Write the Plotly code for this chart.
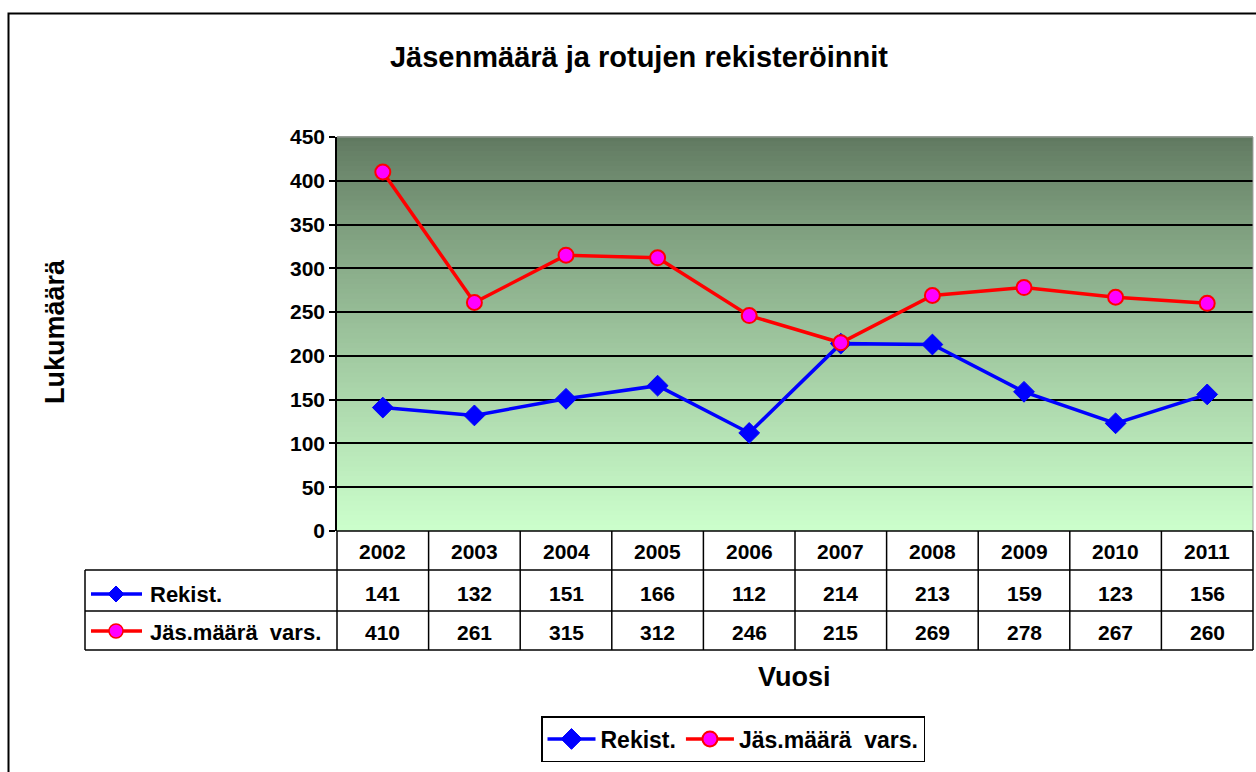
import plotly.graph_objects as go

years = ["2002", "2003", "2004", "2005", "2006", "2007", "2008", "2009", "2010", "2011"]
rekist = [141, 132, 151, 166, 112, 214, 213, 159, 123, 156]
jasmaara = [410, 261, 315, 312, 246, 215, 269, 278, 267, 260]
series_names = ["Rekist.", "Jäs.määrä  vars."]
y_ticks = [0, 50, 100, 150, 200, 250, 300, 350, 400, 450]

W, H = 1256, 772
L, R, T, B = 337, 1253, 137, 531
PW, PH = R - L, B - T

def xp(px):
    return (px - L) / PW

def yp(py):
    return (B - py) / PH

FONT = "Liberation Sans, Arial, sans-serif"
BLUE = "#0000ff"
RED = "#ff0000"
MAG = "#ff00ff"

fig = go.Figure()
fig.add_trace(go.Scatter(
    x=years, y=rekist, name="<b>%s</b>" % series_names[0], mode="lines+markers",
    line=dict(color=BLUE, width=3.5),
    marker=dict(symbol="diamond", size=16, color=BLUE, line=dict(color=BLUE, width=1)),
))
fig.add_trace(go.Scatter(
    x=years, y=jasmaara, name="<b>%s</b>" % series_names[1].replace("  ", "&nbsp; "),
    mode="lines+markers",
    line=dict(color=RED, width=3.5),
    marker=dict(symbol="circle", size=15, color=MAG, line=dict(color=RED, width=2)),
))

shapes = []
# gradient background
top = (95, 119, 95)
bot = (204, 255, 204)
N = 80
for i in range(N):
    f = (i + 0.5) / N  # from top
    g = f ** 0.85
    c = tuple(int(round(top[k] + (bot[k] - top[k]) * g)) for k in range(3))
    shapes.append(dict(type="rect", xref="x domain", yref="y domain",
                       x0=0, x1=1, y0=1 - (i + 1) / N, y1=1 - i / N + 0.002,
                       fillcolor="rgb(%d,%d,%d)" % c, line=dict(width=0), layer="below"))
# plot border (top/right grey)
shapes.append(dict(type="line", xref="paper", yref="paper", x0=0, x1=1, y0=1, y1=1,
                   line=dict(color="#a0a0a0", width=1)))
shapes.append(dict(type="line", xref="paper", yref="paper", x0=1, x1=1, y0=0, y1=1,
                   line=dict(color="#a0a0a0", width=1)))
# outer chart border
shapes.append(dict(type="rect", xref="paper", yref="paper",
                   x0=xp(8.5), x1=xp(1262), y0=yp(13.5), y1=yp(790),
                   line=dict(color="black", width=2), fillcolor="rgba(0,0,0,0)"))

# data table grid
n = len(years)
row_lines = [570, 611, 650]
for k in range(n + 1):
    shapes.append(dict(type="line", xref="paper", yref="paper",
                       x0=k / n, x1=k / n, y0=yp(531), y1=yp(650),
                       line=dict(color="black", width=1.5)))
shapes.append(dict(type="line", xref="paper", yref="paper",
                   x0=0, x1=1, y0=yp(531), y1=yp(531), line=dict(color="black", width=1.5)))
for ry in row_lines:
    shapes.append(dict(type="line", xref="paper", yref="paper",
                       x0=xp(85), x1=1, y0=yp(ry), y1=yp(ry), line=dict(color="black", width=1.5)))
shapes.append(dict(type="line", xref="paper", yref="paper",
                   x0=xp(85), x1=xp(85), y0=yp(570), y1=yp(650), line=dict(color="black", width=1.5)))

# legend keys in table
def key(py, kind):
    out = [dict(type="line", xref="paper", yref="paper", x0=xp(91), x1=xp(142),
                y0=yp(py), y1=yp(py), line=dict(color=BLUE if kind == "d" else RED, width=3.5))]
    cx = 116
    if kind == "d":
        s = 8
        path = "M %f,%f L %f,%f L %f,%f L %f,%f Z" % (
            xp(cx - s), yp(py), xp(cx), yp(py - s), xp(cx + s), yp(py), xp(cx), yp(py + s))
        out.append(dict(type="path", xref="paper", yref="paper", path=path,
                        fillcolor=BLUE, line=dict(color=BLUE, width=1)))
    else:
        r = 7
        out.append(dict(type="circle", xref="paper", yref="paper",
                        x0=xp(cx - r), x1=xp(cx + r), y0=yp(py - r), y1=yp(py + r),
                        fillcolor=MAG, line=dict(color=RED, width=1.5)))
    return out

shapes += key(594, "d")
shapes += key(631, "c")

annotations = []
tf = dict(family=FONT, size=21, color="black")
lf = dict(family=FONT, size=22, color="black")
for i, yr in enumerate(years):
    annotations.append(dict(x=i, xref="x", y=yp(551), yref="paper", text="<b>%s</b>" % yr,
                            showarrow=False, font=tf, xanchor="center", yanchor="middle"))
    annotations.append(dict(x=i, xref="x", y=yp(593), yref="paper", text="<b>%d</b>" % rekist[i],
                            showarrow=False, font=tf, xanchor="center", yanchor="middle"))
    annotations.append(dict(x=i, xref="x", y=yp(632), yref="paper", text="<b>%d</b>" % jasmaara[i],
                            showarrow=False, font=tf, xanchor="center", yanchor="middle"))
annotations.append(dict(x=xp(148), xref="paper", y=yp(594), yref="paper", text="<b>%s</b>" % series_names[0],
                        showarrow=False, font=lf, xanchor="left", yanchor="middle"))
annotations.append(dict(x=xp(148), xref="paper", y=yp(632), yref="paper",
                        text="<b>%s</b>" % series_names[1].replace("  ", "&nbsp; "),
                        showarrow=False, font=lf, xanchor="left", yanchor="middle"))
# axis titles
annotations.append(dict(x=xp(55), xref="paper", y=yp(332), yref="paper", text="<b>Lukumäärä</b>",
                        textangle=-90, showarrow=False, font=dict(family=FONT, size=27, color="black"),
                        xanchor="center", yanchor="middle"))
annotations.append(dict(x=xp(794), xref="paper", y=yp(677), yref="paper", text="<b>Vuosi</b>",
                        showarrow=False, font=dict(family=FONT, size=27, color="black"),
                        xanchor="center", yanchor="middle"))

fig.update_layout(
    width=W, height=H,
    margin=dict(l=L, r=W - R, t=T, b=H - B, autoexpand=False),
    paper_bgcolor="white",
    plot_bgcolor="rgba(0,0,0,0)",
    title=dict(text="<b>Jäsenmäärä ja rotujen rekisteröinnit</b>", x=639 / W, xanchor="center",
               y=1 - 57 / H, yanchor="middle", yref="container",
               font=dict(family=FONT, size=29, color="black")),
    showlegend=True,
    legend=dict(orientation="h", x=xp(733), xanchor="center", y=yp(716), yanchor="top",
                bordercolor="black", borderwidth=1.5, bgcolor="white",
                font=dict(family=FONT, size=23, color="black"),
                itemwidth=48),
    shapes=shapes,
    annotations=annotations,
)
fig.update_xaxes(type="category", range=[-0.5, n - 0.5], showticklabels=False, showgrid=False,
                 zeroline=False, showline=False, ticks="")
fig.update_yaxes(range=[0, 450], tickvals=y_ticks, ticktext=["<b>%d</b>" % v for v in y_ticks],
                 showgrid=True, gridcolor="black", gridwidth=1.5, zeroline=False,
                 showline=True, linecolor="black", linewidth=1.5,
                 ticks="outside", ticklen=6, tickcolor="black", tickwidth=1.5,
                 tickfont=dict(family=FONT, size=21, color="black"))

fig.write_html("out.html", post_script="document.body.style.margin='0';",
               config={"displayModeBar": False})
